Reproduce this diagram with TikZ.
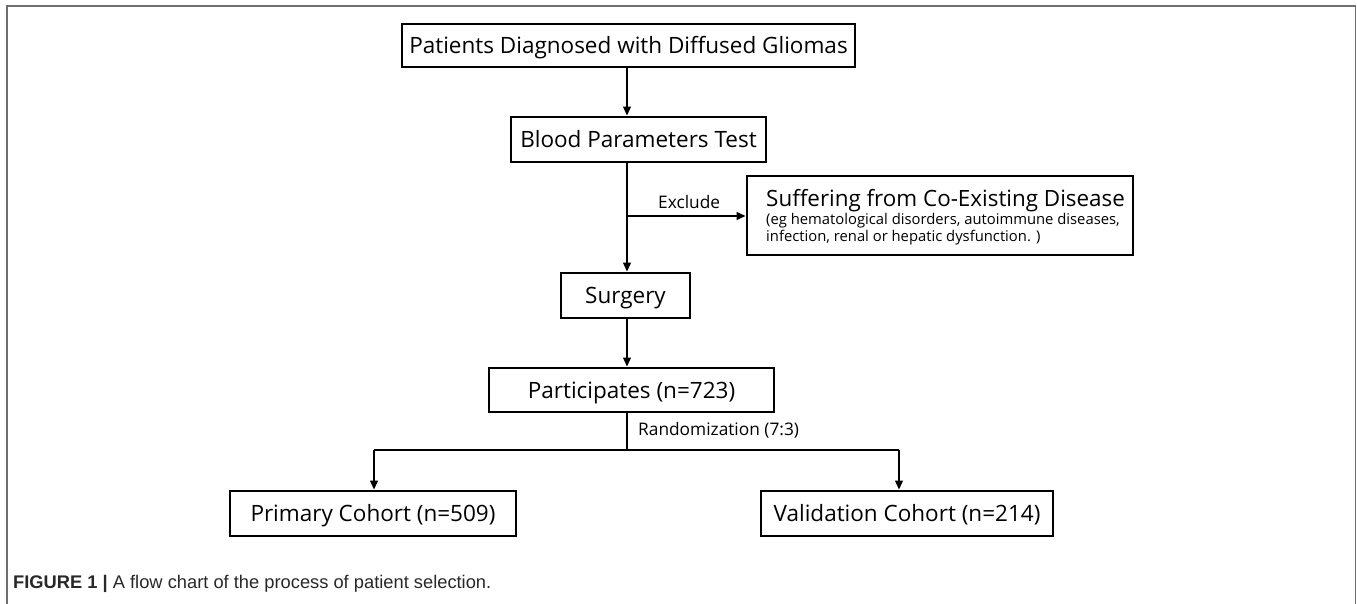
\documentclass[tikz,border=0pt]{standalone}
\usepackage{fontspec}
\setmainfont{Open Sans}
\newfontfamily\capfont{Liberation Sans}
\usetikzlibrary{arrows.meta}
\definecolor{framegray}{RGB}{110,110,110}
\definecolor{captext}{RGB}{40,40,40}
\tikzset{
  boxnode/.style={draw=black, line width=2.6pt, inner sep=0pt,
    font=\fontsize{22.5}{27}\selectfont, text height=16pt, text depth=0pt},
  conn/.style={line width=2.1pt, black},
  arr/.style={conn, -{Triangle[length=9pt,width=7.5pt]}},
  lbl/.style={font=\fontsize{17.3}{20}\selectfont, inner sep=0pt},
  subtxt/.style={font=\fontsize{14.8}{17}\selectfont, inner sep=0pt},
  titletxt/.style={font=\fontsize{22.4}{27}\selectfont, inner sep=0pt},
  framestyle/.style={draw=framegray, line width=1.6pt}
}
\begin{document}
\begin{tikzpicture}[x=1pt,y=-1pt]
\useasboundingbox (0,0) rectangle (1357,604);
% outer frame (open at bottom)
\draw[framestyle] (7,604) -- (7,6) -- (1355.5,6) -- (1355.5,604);

% boxes
\node[boxnode, minimum width=453pt, minimum height=43pt] (diag) at (628.5,45.5) {Patients Diagnosed with Diffused Gliomas};
\node[boxnode, minimum width=255pt, minimum height=45pt] (blood) at (638.5,139.5) {Blood Parameters Test};
\node[boxnode, minimum width=386pt, minimum height=79pt] (suffer) at (940,215.5) {};
\node[titletxt, anchor=base west] (suffertitle) at (766,207) {Suffering from Co-Existing Disease};
\node[subtxt, anchor=base west] (suffersub1) at (766,225) {(eg hematological disorders, autoimmune diseases,};
\node[subtxt, anchor=base west] (suffersub2) at (766,241) {infection, renal or hepatic dysfunction. )};
\node[boxnode, minimum width=129pt, minimum height=45pt] (surgery) at (625.5,295.5) {Surgery};
\node[boxnode, minimum width=285pt, minimum height=44pt] (partic) at (631.5,390) {Participates (n=723)};
\node[boxnode, minimum width=286pt, minimum height=45pt] (primary) at (373,513.5) {Primary Cohort (n=509)};
\node[boxnode, minimum width=292pt, minimum height=45pt] (valid) at (907,513.5) {Validation Cohort (n=214)};

% helper coordinates
\coordinate (spine) at (627,0);
\coordinate (excl) at (627,216);
\coordinate (split) at (627,450);
\coordinate (lefttap) at (374,450);
\coordinate (righttap) at (899,450);

% connectors
\draw[arr] (diag.south -| spine) -- (blood.north -| spine);
\draw[arr] (blood.south -| spine) -- (surgery.north -| spine);
\draw[arr] (excl) -- (suffer.west |- excl);
\draw[arr] (surgery.south -| spine) -- (partic.north -| spine);
\draw[conn] (partic.south -| spine) -- (split);
\draw[conn] (lefttap) -- (righttap);
\draw[arr] (lefttap) -- (lefttap |- primary.north);
\draw[arr] (righttap) -- (righttap |- valid.north);

% labels
\node[lbl, anchor=base west] (exclude) at (658,209) {Exclude};
\node[lbl, anchor=base west] (random) at (638,435) {Randomization (7:3)};

% caption
\node[anchor=base west, inner sep=0pt, text=captext, font=\capfont\fontsize{18.3}{22}\selectfont] (caption) at (13,588) {\textbf{FIGURE 1 |} A flow chart of the process of patient selection.};
\end{tikzpicture}
\end{document}
